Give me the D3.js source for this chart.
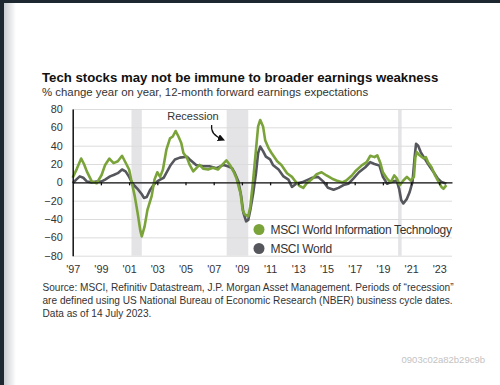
<!DOCTYPE html>
<html>
  <head>
    <meta charset="utf-8">
    <title>Tech earnings</title>
    <script src="https://d3js.org/d3.v7.min.js"></script>
    <style>
      body { margin: 0; background: #fff; }
      text { font-family: "Liberation Sans", Arial, sans-serif; }
    </style>
  </head>

  <body>
    <div class="chart"></div>

    <script>
      // decimal years + values
      var techDates = [1997.0, 1997.3, 1997.6, 1997.8, 1998.0, 1998.35, 1998.7, 1999.05, 1999.3, 1999.6, 1999.9, 2000.2, 2000.5, 2000.7,
        2001.0, 2001.2, 2001.4, 2001.6, 2001.8, 2001.9, 2002.1, 2002.3, 2002.6, 2002.8, 2003.0, 2003.2, 2003.4, 2003.65, 2003.9,
        2004.1, 2004.3, 2004.5, 2004.7, 2004.85, 2005.1, 2005.3, 2005.55, 2005.8, 2006.0, 2006.25, 2006.6, 2006.95, 2007.3, 2007.6,
        2007.9, 2008.15, 2008.4, 2008.6, 2008.9, 2009.05, 2009.2, 2009.45, 2009.6, 2009.8, 2010.0, 2010.15, 2010.3, 2010.5, 2010.65,
        2010.9, 2011.1, 2011.5, 2011.8, 2012.2, 2012.55, 2012.8, 2013.1, 2013.35, 2013.6, 2014.0, 2014.3, 2014.65, 2015.0, 2015.4,
        2015.7, 2016.1, 2016.4, 2016.8, 2017.1, 2017.5, 2017.85, 2018.1, 2018.4, 2018.6, 2018.8, 2019.0, 2019.3, 2019.55, 2019.8,
        2020.0, 2020.2, 2020.45, 2020.7, 2020.97, 2021.2, 2021.3, 2021.4, 2021.6, 2021.9, 2022.05, 2022.2, 2022.45, 2022.7, 2022.9,
        2023.15, 2023.3, 2023.5];
      var techValues = [5, 15, 26, 20, 12, 1, -1, 8, 19, 26, 21, 23, 29, 23,
        14, -1, -15, -33, -53, -59, -48, -30, -15, 3, 11, 6, 14, 36, 48,
        50, 56, 50, 43, 32, 27, 19, 12, 16, 19, 15, 14, 16, 14, 19,
        24, 19, 12, 5, -12, -30, -35, -37, -26, 3, 36, 61, 68, 61, 46,
        37, 32, 23, 19, 10, 6, 1, -4, -6, -1, 4, 9, 11, 7.5, 4,
        2, 0, 2, 7.5, 13, 18.5, 22, 29, 27.5, 29.5, 22, 11, 4, 0, 7.5,
        4, -3, 2, 6, 2, 6, 27, 33, 29.5, 26, 27.5, 22, 16.5, 7.5, 2,
        -5, -7, -3];

      var worldDates = [1997.0, 1997.25, 1997.5, 1997.75, 1998.0, 1998.35, 1998.7, 1999.05, 1999.3, 1999.65, 1999.9, 2000.2, 2000.5, 2000.75,
        2001.0, 2001.2, 2001.4, 2001.65, 2001.9, 2002.05, 2002.25, 2002.5, 2002.75, 2003.0, 2003.2, 2003.45, 2003.7, 2003.95,
        2004.25, 2004.6, 2005.1, 2005.3, 2005.75, 2006.25, 2006.7, 2007.2, 2007.7, 2008.0, 2008.3, 2008.5, 2008.75, 2008.95,
        2009.1, 2009.3, 2009.45, 2009.6, 2009.8, 2010.0, 2010.15, 2010.3, 2010.5, 2010.7, 2011.0, 2011.2, 2011.6, 2011.95,
        2012.3, 2012.55, 2012.9, 2013.25, 2013.7, 2014.0, 2014.4, 2014.8, 2015.1, 2015.5, 2015.85, 2016.2, 2016.55, 2016.9,
        2017.3, 2017.75, 2018.1, 2018.4, 2018.75, 2019.0, 2019.3, 2019.6, 2019.98, 2020.15, 2020.3, 2020.45, 2020.7, 2020.9,
        2021.1, 2021.25, 2021.35, 2021.5, 2021.68, 2021.9, 2022.2, 2022.6, 2022.9, 2023.15, 2023.5];
      var worldValues = [-1, 3, 6.5, 5, 1, 0, 1, 1, 3, 6.5, 8, 10, 14, 12,
        6, 0, -4, -8, -13, -17, -16, -8, -2.5, 1, 3, 5, 12, 19,
        25, 27, 28, 25, 19, 17.5, 17.5, 15.5, 19, 17.5, 15.5, 10, 1, -15,
        -33, -42.5, -41, -30, -12, 10, 32, 39, 34, 28, 25, 19, 14, 6.5,
        3, -5, -1, 0, 3, 5, 6, 0.5, -6, -8, -6, -3, -1.5, 4,
        11, 16.5, 22, 20, 18.5, 6, -1.5, 0.5, 2, -7, -19.5, -23, -18, -10.5,
        0.5, 27.5, 42, 40, 33, 27.5, 20, 11, 4, 0.5, -1.5];

      var recessionStart = [2001.17, 2007.92, 2020.08];
      var recessionEnd = [2001.9, 2009.45, 2020.33];

      var yTicks = [-80, -60, -40, -20, 0, 20, 40, 60, 80];
      var xTicks = [1997, 1999, 2001, 2003, 2005, 2007, 2009, 2011, 2013, 2015, 2017, 2019, 2021, 2023];
      var seriesNames = ["MSCI World Information Technology", "MSCI World"];
      var seriesColors = ["#7aa33a", "#55575c"];

      var svg = d3.select("div.chart").append("svg")
        .attr("width", 500)
        .attr("height", 385);

      // page frame
      var grad = svg.append("defs").append("linearGradient").attr("id", "shade");
      grad.append("stop").attr("offset", "0%").attr("stop-color", "#c9ccd0");
      grad.append("stop").attr("offset", "100%").attr("stop-color", "#ffffff");
      svg.append("rect").attr("width", 500).attr("height", 385).attr("fill", "#fff");
      svg.append("rect").attr("x", 4).attr("width", 12).attr("height", 385).attr("fill", "url(#shade)");
      svg.append("rect").attr("width", 4).attr("height", 385).attr("fill", "#1d2730");
      svg.append("rect").attr("width", 500).attr("height", 3).attr("fill", "#1d2730");

      var x = d3.scaleLinear().domain([1997, 2023.9]).range([72.7, 452]);
      var y = d3.scaleLinear().domain([-80, 80]).range([255.7, 109]);

      // recession bands
      svg.selectAll("rect.rec").data(recessionStart).enter().append("rect")
        .attr("class", "rec")
        .attr("x", (d) => x(d))
        .attr("width", (d, i) => x(recessionEnd[i]) - x(d))
        .attr("y", y(80))
        .attr("height", y(-80) - y(80))
        .attr("fill", "#e4e4e6");

      // gridlines
      var grid = svg.append("g").attr("transform", "translate(" + x.range()[0] + ",0)")
        .call(d3.axisLeft(y).tickValues(yTicks).tickSize(-(x.range()[1] - x.range()[0])).tickFormat(""));
      grid.select(".domain").remove();
      grid.selectAll("line").attr("stroke", "#dcdcdc");

      // lines
      var line = d3.line().x((d) => x(d[0])).y((d) => y(d[1]));
      var tech = techDates.map((d, i) => [d, techValues[i]]);
      var world = worldDates.map((d, i) => [d, worldValues[i]]);

      svg.append("path").datum(world)
        .attr("d", line).attr("fill", "none")
        .attr("stroke", seriesColors[1]).attr("stroke-width", 2.6).attr("stroke-linejoin", "round");
      svg.append("path").datum(tech)
        .attr("d", line).attr("fill", "none")
        .attr("stroke", seriesColors[0]).attr("stroke-width", 2.6).attr("stroke-linejoin", "round");

      // zero line with ticks
      var zero = svg.append("g").attr("transform", "translate(0," + y(0) + ")")
        .call(d3.axisBottom(x).tickValues(xTicks.slice(1)).tickSize(3).tickSizeOuter(0).tickFormat(""));
      zero.selectAll("path,line").attr("stroke", "#111").attr("stroke-width", 1.3);

      // y axis
      var yAxis = svg.append("g").attr("transform", "translate(" + x.range()[0] + ",0)")
        .call(d3.axisLeft(y).tickValues(yTicks).tickSize(0).tickPadding(10));
      yAxis.select(".domain").attr("stroke", "#111").attr("stroke-width", 1.5);
      yAxis.selectAll("text").attr("font-size", 10.8).attr("fill", "#333")
        .attr("font-family", "Liberation Sans, Arial, sans-serif");

      // x axis labels
      var xAxis = svg.append("g").attr("transform", "translate(0," + y(-80) + ")")
        .call(d3.axisBottom(x).tickValues(xTicks).tickSize(0).tickPadding(10)
          .tickFormat((d) => "'" + String(d).slice(2)));
      xAxis.select(".domain").remove();
      xAxis.selectAll("text").attr("font-size", 10.8).attr("fill", "#333")
        .attr("font-family", "Liberation Sans, Arial, sans-serif");

      // legend
      var legend = svg.selectAll("g.leg").data(seriesNames).enter().append("g")
        .attr("class", "leg")
        .attr("transform", (d, i) => "translate(259," + (229.5 + i * 19) + ")");
      legend.append("circle").attr("r", 5.5).attr("fill", (d, i) => seriesColors[i]);
      legend.append("text").attr("x", 11.5).attr("y", 4.3)
        .attr("font-size", 12).attr("letter-spacing", -0.32).attr("fill", "#333").text((d) => d);

      // recession note
      svg.append("text").attr("x", 193).attr("y", 120).attr("text-anchor", "middle")
        .attr("font-size", 11).attr("fill", "#333").text("Recession");
      svg.append("defs").append("marker").attr("id", "head")
        .attr("viewBox", "0 0 10 10").attr("refX", 5).attr("refY", 5)
        .attr("markerWidth", 6).attr("markerHeight", 6).attr("orient", "auto")
        .append("path").attr("d", "M0,0 L10,5 L0,10 z").attr("fill", "#111");
      var ax = x(recessionStart[1]) - 3;
      svg.append("path")
        .attr("d", "M" + (ax - 12) + ",125 C" + (ax - 13) + ",131 " + (ax - 9) + ",136 " + (ax - 2) + ",139")
        .attr("fill", "none").attr("stroke", "#111").attr("stroke-width", 1.2)
        .attr("marker-end", "url(#head)");

      // titles
      svg.append("text").attr("x", 42).attr("y", 82)
        .attr("font-size", 13.2).attr("font-weight", "bold").attr("fill", "#111")
        .text("Tech stocks may not be immune to broader earnings weakness");
      svg.append("text").attr("x", 42).attr("y", 95.5)
        .attr("font-size", 11.4).attr("fill", "#333")
        .text("% change year on year, 12-month forward earnings expectations");

      // source
      var notes = ["Source: MSCI, Refinitiv Datastream, J.P. Morgan Asset Management. Periods of \u201crecession\u201d",
        "are defined using US National Bureau of Economic Research (NBER) business cycle dates.",
        "Data as of 14 July 2023."];
      svg.selectAll("text.note").data(notes).enter().append("text")
        .attr("class", "note")
        .attr("x", 42.5).attr("y", (d, i) => 290.5 + i * 13)
        .attr("font-size", 10.1).attr("fill", "#333").text((d) => d);

      svg.append("text").attr("x", 485).attr("y", 362.5).attr("text-anchor", "end")
        .attr("font-size", 9.5).attr("fill", "#c3c3c3").text("0903c02a82b29c9b");
    </script>

  </body>
</html>
